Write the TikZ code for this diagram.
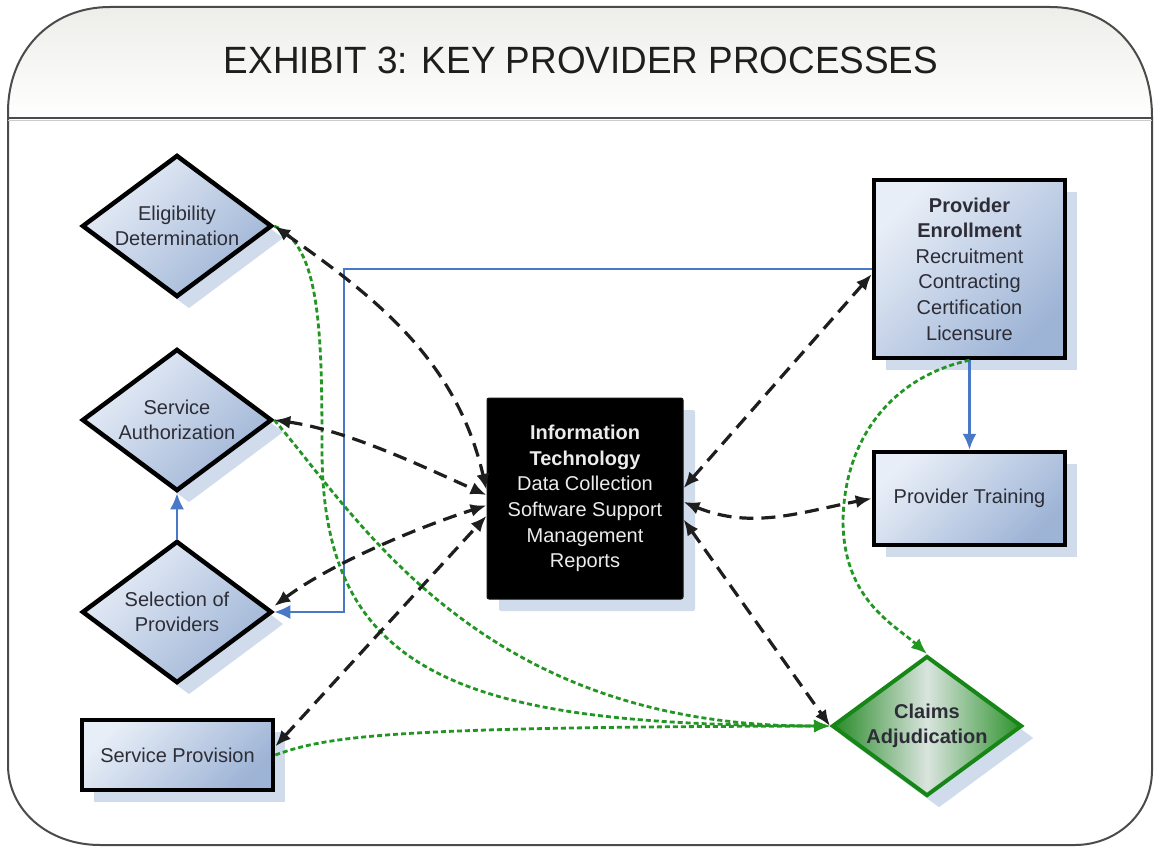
\documentclass[tikz,border=0pt]{standalone}
\usepackage{fontspec}
\setmainfont{Liberation Sans}
\usetikzlibrary{arrows.meta,shapes.geometric,shadows,calc}
\definecolor{boxtop}{RGB}{232,238,247}
\definecolor{boxbot}{RGB}{158,180,214}
\definecolor{shadowc}{RGB}{208,219,236}
\definecolor{bluec}{RGB}{72,120,198}
\definecolor{greenc}{RGB}{34,150,34}
\definecolor{darkgreen}{RGB}{22,135,22}
\definecolor{txt}{RGB}{45,45,55}
\definecolor{framec}{RGB}{75,75,75}
\definecolor{hdtop}{RGB}{236,236,232}
\definecolor{clA}{RGB}{38,138,38}
\definecolor{clB}{RGB}{218,228,222}
\definecolor{clC}{RGB}{44,146,44}
\definecolor{dashc}{RGB}{30,30,30}
\definecolor{titlec}{RGB}{30,30,30}
\definecolor{ittext}{RGB}{236,236,236}
\definecolor{itborder}{RGB}{20,20,20}
\newcommand{\bodyfont}{\fontsize{20}{25.6}\selectfont}
\tikzset{
  shadowed/.style={drop shadow={shadow xshift=12pt, shadow yshift=-12pt, fill=shadowc, opacity=1}},
  shapebase/.style={draw=black, line width=4.5pt, text=txt, align=center, font=\bodyfont,
    inner sep=0pt, top color=boxtop, bottom color=boxbot, shading angle=45, shadowed},
  dia/.style={shapebase, diamond, shape aspect=1.33, minimum width=190pt, minimum height=142pt},
  rbox/.style={shapebase, rectangle, minimum width=191pt},
  blk/.style={draw=dashc, line width=3.2pt, dash pattern=on 14pt off 8pt, >={Latex[length=16pt,width=13pt]}, <->},
  grn/.style={draw=greenc, line width=2.8pt, dash pattern=on 5pt off 3pt, >={Latex[length=16pt,width=13pt]}, ->},
  blu/.style={draw=bluec, line width=2.4pt, >={Latex[length=16pt,width=14pt]}, ->},
}
\begin{document}
\begin{tikzpicture}[x=1pt,y=-1pt]
\useasboundingbox (0,0) rectangle (1154,848);
\fill[white] (0,0) rectangle (1154,848);
% frame and header
\begin{scope}
\clip (110,7) -- (1050,7) .. controls (1112,7) and (1152,52) .. (1152,117) -- (1152,770)
  .. controls (1152,815) and (1115,845) .. (1075,845) -- (100,845)
  .. controls (48,845) and (8,810) .. (8,765) -- (8,112) .. controls (8,52) and (50,7) .. (110,7) -- cycle;
\shade[top color=hdtop, bottom color=white] (0,0) rectangle (1154,118);
\end{scope}
\draw[line width=2pt, draw=framec] (110,7) -- (1050,7) .. controls (1112,7) and (1152,52) .. (1152,117) -- (1152,770)
  .. controls (1152,815) and (1115,845) .. (1075,845) -- (100,845)
  .. controls (48,845) and (8,810) .. (8,765) -- (8,112) .. controls (8,52) and (50,7) .. (110,7) -- cycle;
\draw[line width=2.2pt, draw=framec] (8,118) -- (1152,118);
\draw[line width=1.5pt, draw=black!20] (8,120.5) -- (1152,120.5);
\node[anchor=base, font=\fontsize{38}{40}\selectfont, text=titlec, xscale=0.97] (title) at (581,74) {EXHIBIT 3: KEY PROVIDER PROCESSES};

% nodes
\node[dia] (elig) at (177,226) {Eligibility\\Determination};
\node[dia] (sa) at (177,420) {Service\\Authorization};
\node[dia] (sel) at (177,612) {Selection of\\Providers};
\node[rbox, minimum height=70pt] (sprov) at (177.5,755) {Service Provision};
\node[rbox, minimum height=178pt] (pe) at (969.5,269) {\textbf{Provider}\\\textbf{Enrollment}\\Recruitment\\Contracting\\Certification\\Licensure};
\node[rbox, minimum height=93pt] (pt) at (969.5,498.5) {Provider Training};
\node[draw=itborder, line width=1pt, fill=black, rounded corners=2pt,
  minimum width=196pt, minimum height=201pt, inner sep=0pt, text=ittext,
  align=center, font=\bodyfont, shadowed] (it) at (585,498.5)
  {\textbf{Information}\\\textbf{Technology}\\Data Collection\\Software Support\\Management\\Reports};
\node[draw=darkgreen, line width=4pt, diamond, shape aspect=1.36, minimum width=190pt,
  minimum height=140pt, inner sep=0pt, left color=clA, right color=clC, middle color=clB,
  shadowed, font=\bodyfont\bfseries, text=txt, align=center] (claims) at (927,726) {Claims\\Adjudication};

% blue connectors
\draw[blu] (pe.west) -- (344,269) |- (sel.east);
\draw[blu] (sel.north) -- (sa.south);
\draw[blu] (pe.south) -- (pt.north);

% green dotted connectors
\draw[grn] (elig.east) .. controls (320,245) and (322,330) .. (322,450)
  .. controls (322,680) and (470,725) .. (claims.west);
\draw[grn] (sa.east) .. controls (360,520) and (480,727) .. (claims.west);
\draw[grn] (sprov.east) .. controls (330,735) and (400,727) .. (claims.west);
\draw[grn] (pe.south) .. controls (900,375) and (845,430) .. (843,520)
  .. controls (843,600) and (895,625) .. (claims.north);

% black dashed connectors
\draw[blk] (elig.east) .. controls (381,301) and (457,363) .. (it.175);
\draw[blk] (sa.east) .. controls (345,430) and (413,462) .. (it.178);
\draw[blk] ($(sel.east)+(0,-6)$) .. controls (332,563) and (419,527) .. (it.184);
\draw[blk] (sprov.5) -- (it.190);
\draw[blk] (it.6) -- (pe.183);
\draw[blk] (it.-2) .. controls (752,530) and (801,512) .. (pt.west);
\draw[blk] (it.-12) -- (claims.west);
\end{tikzpicture}
\end{document}
